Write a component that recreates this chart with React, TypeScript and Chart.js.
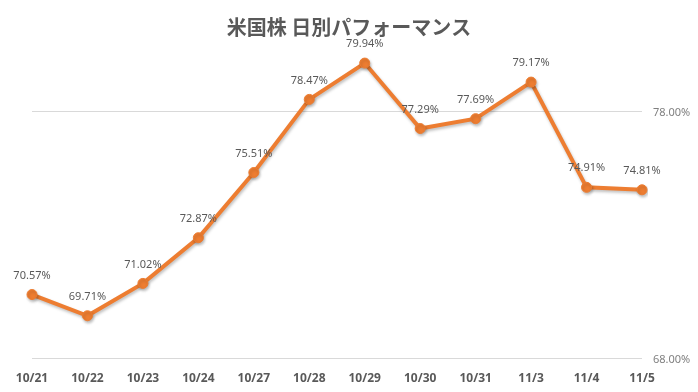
import React, { useEffect, useRef } from "react";
import { Chart, registerables } from "chart.js";

Chart.register(...registerables);

const categories = ["10/21", "10/22", "10/23", "10/24", "10/27", "10/28", "10/29", "10/30", "10/31", "11/3", "11/4", "11/5"];
const values = [70.57, 69.71, 71.02, 72.87, 75.51, 78.47, 79.94, 77.29, 77.69, 79.17, 74.91, 74.81];
const yTicks = [68, 78];
const title = "米国株 日別パフォーマンス";

const ORANGE = "#ED7D31";

const labelPlugin = {
  id: "valueLabels",
  afterDatasetsDraw(chart: any) {
    const ctx = chart.ctx;
    const meta = chart.getDatasetMeta(0);
    ctx.save();
    ctx.font = '11px "Noto Sans", sans-serif';
    ctx.fillStyle = "#595959";
    ctx.textAlign = "center";
    ctx.textBaseline = "middle";
    meta.data.forEach((pt: any, i: number) => {
      ctx.fillText(values[i].toFixed(2) + "%", pt.x, pt.y - 19);
    });
    ctx.restore();
  },
};

const yLabelPlugin = {
  id: "yLabels",
  afterDraw(chart: any) {
    const ctx = chart.ctx;
    const y = chart.scales.y;
    ctx.save();
    ctx.font = '11px "Noto Sans", sans-serif';
    ctx.fillStyle = "#7F7F7F";
    ctx.textAlign = "left";
    ctx.textBaseline = "middle";
    yTicks.forEach((v) => {
      ctx.fillText(v.toFixed(2) + "%", chart.chartArea.right + 11, y.getPixelForValue(v) + 2);
    });
    ctx.restore();
  },
};

const titlePlugin = {
  id: "customTitle",
  afterDraw(chart: any) {
    const ctx = chart.ctx;
    ctx.save();
    ctx.font = 'bold 20px "Noto Sans CJK JP", sans-serif';
    ctx.fillStyle = "#595959";
    ctx.textAlign = "center";
    ctx.textBaseline = "middle";
    ctx.fillText(title, 349, 27);
    ctx.restore();
  },
};

const shadowPlugin = {
  id: "lineShadow",
  beforeDatasetsDraw(chart: any) {
    const ctx = chart.ctx;
    ctx.save();
    ctx.shadowColor = "rgba(0,0,0,0.25)";
    ctx.shadowBlur = 3;
    ctx.shadowOffsetX = 1;
    ctx.shadowOffsetY = 2;
  },
  afterDatasetsDraw(chart: any) {
    chart.ctx.restore();
  },
};

export default function App() {
  const ref = useRef<HTMLCanvasElement | null>(null);
  useEffect(() => {
    document.body.style.margin = "0";
    const top = 40;
    const bottomY = 358;
    const pxPer = (358 - 111) / 10;
    const yMax = 68 + (bottomY - top) / pxPer;
    const chart = new Chart(ref.current as HTMLCanvasElement, {
      type: "line",
      data: {
        labels: categories,
        datasets: [
          {
            data: values,
            borderColor: ORANGE,
            backgroundColor: ORANGE,
            borderWidth: 4,
            pointRadius: 5,
            pointBackgroundColor: ORANGE,
            pointBorderColor: ORANGE,
            pointBorderWidth: 1,
            tension: 0,
          },
        ],
      },
      options: {
        animation: false,
        responsive: false,
        maintainAspectRatio: false,
        layout: { padding: { left: 32, top: top, right: 0, bottom: 0 } },
        plugins: { legend: { display: false }, tooltip: { enabled: false }, title: { display: false } },
        scales: {
          x: {
            offset: false,
            grid: { display: false },
            border: { display: false },
            ticks: {
              color: "#595959",
              font: { family: '"Noto Sans", sans-serif', size: 12, weight: "bold" },
              maxRotation: 0,
              autoSkip: false,
              padding: 5,
            },
            afterFit(scale: any) {
              scale.height = 392 - bottomY;
            },
          },
          y: {
            position: "right",
            min: 68,
            max: yMax,
            afterBuildTicks(scale: any) {
              scale.ticks = yTicks.map((v) => ({ value: v }));
            },
            afterFit(scale: any) {
              scale.width = 698 - 642;
            },
            grid: { color: "#D9D9D9", lineWidth: 1, drawTicks: false },
            border: { display: false },
            ticks: { display: false },
          },
        },
      },
      plugins: [shadowPlugin, labelPlugin, yLabelPlugin, titlePlugin],
    });
    return () => chart.destroy();
  }, []);
  return <canvas ref={ref} width={698} height={392} style={{ display: "block" }} />;
}
